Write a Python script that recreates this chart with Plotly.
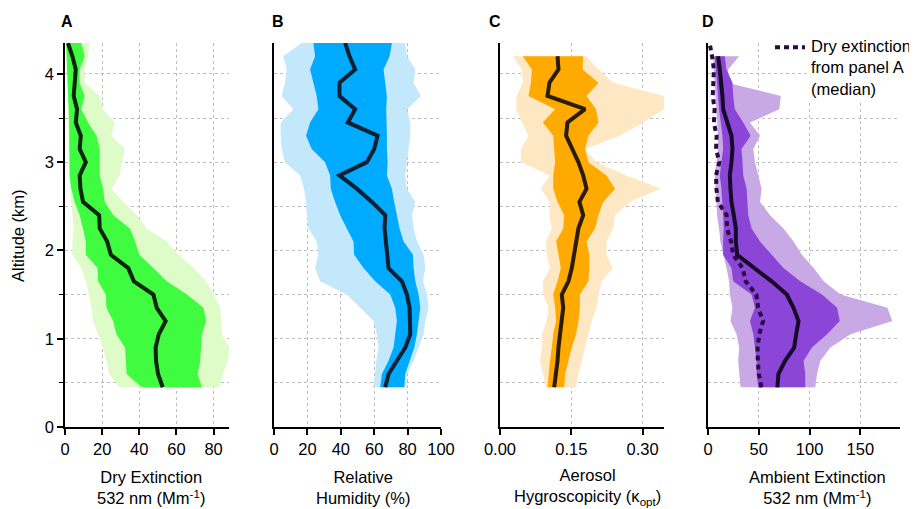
import plotly.graph_objects as go

# ---------------- data ----------------
altitude = [0.45, 0.60, 0.75, 0.90, 1.05, 1.20, 1.35, 1.50, 1.65, 1.80, 1.95, 2.10, 2.25,
            2.40, 2.55, 2.70, 2.85, 3.00, 3.15, 3.30, 3.45, 3.60, 3.75, 3.90, 4.05, 4.20, 4.35]
altitude_cd = altitude[:26]

# Panel A: dry extinction (Mm-1)
dry_med = [52.6, 50.1, 49.0, 48.8, 50.5, 54.2, 49.4, 47.6, 37.1, 34.1, 24.7, 22.7, 18.7, 18.4,
           9.7, 8.3, 7.9, 11.2, 7.9, 8.5, 5.8, 6.5, 4.7, 5.2, 5.8, 4.0, 1.6]
dry_p25 = [41.3, 33.2, 32.8, 32.3, 27.7, 25.9, 22.3, 22.0, 17.8, 17.5, 11.2, 11.2, 9.7, 7.9,
           5.2, 3.4, 2.5, 2.5, 2.5, 2.5, 2.2, 2.0, 1.6, 1.3, 1.1, 0.9, 0.7]
dry_p75 = [73.7, 71.4, 72.8, 73.2, 73.7, 76.0, 74.6, 65.6, 54.8, 47.6, 40.0, 37.7, 35.0, 26.0,
           21.4, 20.5, 18.7, 18.7, 18.7, 17.0, 12.4, 8.8, 10.6, 7.9, 7.9, 10.6, 8.8]
dry_p10 = [29.2, 23.8, 22.3, 20.5, 17.8, 15.1, 14.2, 13.0, 11.2, 8.8, 4.0, 4.0, 4.7, 4.0,
           3.4, 2.5, 2.0, 2.0, 2.0, 2.0, 1.8, 1.6, 1.4, 1.1, 0.9, 0.7, 0.7]
dry_p90 = [83.2, 85.0, 87.7, 88.6, 84.5, 84.1, 83.6, 80.0, 76.0, 69.2, 61.1, 54.8, 44.0, 38.6,
           31.4, 25.0, 29.5, 30.5, 32.3, 25.0, 26.8, 20.5, 18.7, 10.6, 10.6, 12.4, 13.3]

# Panel B: relative humidity (%)
rh_med = [66.6, 68.6, 73.6, 78.6, 81.6, 81.6, 81.2, 79.6, 76.6, 68.6, 67.6, 67.0, 66.2, 66.6,
          58.6, 49.6, 39.2, 55.6, 60.0, 62.0, 44.2, 48.6, 39.2, 39.2, 48.6, 45.2, 42.6]
rh_p25 = [63.6, 64.6, 68.6, 71.6, 72.6, 73.6, 72.6, 69.6, 60.6, 53.6, 48.0, 47.6, 43.6, 39.6,
          36.6, 34.0, 33.6, 30.6, 22.6, 19.2, 21.6, 26.6, 25.6, 23.6, 21.6, 24.6, 23.6]
rh_p75 = [78.0, 78.6, 81.2, 84.0, 85.6, 86.6, 87.6, 86.6, 84.6, 83.6, 83.2, 77.6, 75.2, 73.6,
          72.0, 70.6, 67.6, 68.0, 67.6, 67.6, 67.6, 67.2, 67.6, 66.6, 65.6, 69.2, 70.6]
rh_p10 = [59.2, 60.6, 61.2, 62.6, 61.6, 59.6, 51.6, 43.6, 27.6, 24.6, 26.6, 25.6, 20.6, 19.6,
          19.2, 18.0, 15.6, 6.6, 4.6, 4.0, 4.0, 11.6, 4.6, 6.6, 7.6, 5.6, 16.6]
rh_p90 = [79.0, 79.6, 83.6, 86.6, 89.6, 90.6, 92.6, 91.6, 89.2, 90.6, 89.6, 85.6, 83.6, 82.6,
          84.6, 79.6, 78.6, 79.6, 80.6, 81.6, 81.6, 79.6, 88.0, 83.6, 84.6, 79.6, 78.6]

# Panel C: aerosol hygroscopicity (kappa_opt)
kappa_med = [0.114, 0.118, 0.121, 0.123, 0.126, 0.128, 0.133, 0.130, 0.144, 0.151, 0.156, 0.160, 0.165,
             0.175, 0.167, 0.182, 0.175, 0.165, 0.151, 0.139, 0.142, 0.179, 0.100, 0.104, 0.123, 0.121]
kappa_p25 = [0.100, 0.102, 0.105, 0.109, 0.112, 0.118, 0.116, 0.112, 0.121, 0.128, 0.123, 0.118, 0.133,
             0.135, 0.121, 0.112, 0.112, 0.116, 0.114, 0.112, 0.090, 0.116, 0.060, 0.065, 0.067, 0.048]
kappa_p75 = [0.135, 0.137, 0.144, 0.151, 0.160, 0.165, 0.168, 0.168, 0.186, 0.188, 0.188, 0.182, 0.200,
             0.207, 0.217, 0.242, 0.224, 0.186, 0.179, 0.186, 0.207, 0.202, 0.182, 0.207, 0.174, 0.175]
kappa_p10 = [0.097, 0.090, 0.084, 0.088, 0.088, 0.098, 0.102, 0.091, 0.090, 0.105, 0.098, 0.097, 0.109,
             0.104, 0.105, 0.086, 0.105, 0.044, 0.044, 0.060, 0.046, 0.034, 0.035, 0.048, 0.046, 0.027]
kappa_p90 = [0.160, 0.165, 0.172, 0.179, 0.186, 0.193, 0.203, 0.207, 0.214, 0.237, 0.224, 0.224, 0.238,
             0.242, 0.273, 0.338, 0.266, 0.203, 0.179, 0.252, 0.301, 0.345, 0.345, 0.238, 0.207, 0.182]

# Panel D: ambient extinction (Mm-1)
amb_med = [68.3, 69.3, 75.9, 84.8, 86.8, 89.1, 84.2, 77.6, 62.7, 46.2, 28.7, 27.4, 27.4,
           25.4, 23.1, 22.1, 21.5, 23.1, 24.1, 23.1, 18.8, 14.9, 14.2, 13.2, 11.6, 9.9]
amb_p25 = [49.5, 47.9, 47.9, 46.2, 44.6, 41.3, 46.2, 42.9, 24.8, 23.1, 14.9, 14.9, 15.5,
           14.9, 14.2, 13.2, 11.6, 13.2, 14.9, 14.2, 12.2, 10.9, 9.9, 8.9, 7.6, 6.6]
amb_p75 = [95.7, 95.7, 94.1, 102.3, 117.2, 129.7, 127.1, 112.2, 90.8, 74.3, 62.7, 51.2, 42.9,
           39.6, 38.6, 38.0, 34.7, 34.0, 33.0, 41.9, 34.7, 26.4, 24.8, 24.1, 18.2, 16.5]
amb_p10 = [32.0, 30.7, 29.7, 30.7, 28.1, 22.1, 24.1, 21.5, 20.8, 18.2, 14.9, 12.2, 10.9,
           8.9, 8.3, 7.6, 6.6, 8.3, 9.9, 9.9, 8.9, 8.3, 7.6, 6.6, 5.6, 5.0]
amb_p90 = [105.6, 107.3, 110.6, 120.5, 140.3, 181.5, 176.6, 130.4, 113.9, 104.0, 92.4, 84.2, 74.3,
           61.1, 51.2, 52.8, 49.5, 46.2, 44.6, 51.2, 41.3, 70.3, 71.6, 18.8, 19.8, 30.7]

ticks_a = [0, 20, 40, 60, 80]
ticks_b = [0, 20, 40, 60, 80, 100]
ticks_c = [0.0, 0.15, 0.30]
ticks_c_text = ["0.00", "0.15", "0.30"]
ticks_d = [0, 50, 100, 150]
ticks_alt = [0, 1, 2, 3, 4]
legend_text = "Dry extinction<br>from panel A<br>(median)"

# ---------------- figure ----------------
W, H = 917, 509
OFF = 8  # page body margin
FONT = "Liberation Sans, Arial, sans-serif"
FS = 16.5


def px(x):
    return (x - OFF) / W


def py(y):
    return 1 - (y - OFF) / H


fig = go.Figure()


def band(lo, hi, alt, color, n):
    xs = "x" if n == 1 else f"x{n}"
    ys = "y" if n == 1 else f"y{n}"
    return go.Scatter(x=list(lo) + list(hi)[::-1], y=list(alt) + list(alt)[::-1],
                      fill="toself", fillcolor=color, mode="lines", line=dict(width=0),
                      hoverinfo="skip", showlegend=False, xaxis=xs, yaxis=ys)


def med(x, alt, color, n):
    xs = "x" if n == 1 else f"x{n}"
    ys = "y" if n == 1 else f"y{n}"
    return go.Scatter(x=x, y=alt, mode="lines", line=dict(color=color, width=4),
                      showlegend=False, xaxis=xs, yaxis=ys)


panels = [
    (dry_p10, dry_p90, dry_p25, dry_p75, dry_med, altitude, "#DEFCC8", "#40FC40", "#0E240E"),
    (rh_p10, rh_p90, rh_p25, rh_p75, rh_med, altitude, "#C3E8FB", "#00AAFF", "#0B2030"),
    (kappa_p10, kappa_p90, kappa_p25, kappa_p75, kappa_med, altitude_cd, "#FEE8C3", "#FFAA00", "#2A1C02"),
    (amb_p10, amb_p90, amb_p25, amb_p75, amb_med, altitude_cd, "#C8A9E6", "#8B46D8", "#170A28"),
]
for i, (l10, l90, l25, l75, m, alt, cl, cd, cm) in enumerate(panels, start=1):
    fig.add_trace(band(l10, l90, alt, cl, i))
    fig.add_trace(band(l25, l75, alt, cd, i))
    fig.add_trace(med(m, alt, cm, i))

fig.add_trace(go.Scatter(x=dry_med, y=altitude, mode="lines",
                         line=dict(color="#2A0A45", width=4, dash="5px,4px"),
                         name=" ", xaxis="x4", yaxis="y4", showlegend=True))

xdom = [(65, 229), (274, 441), (500, 664), (708, 900)]
ydom = [py(427), py(43)]
xranges = [[0, 88.3], [0, 100], [0, 0.345], [0, 189]]
xticks = [(ticks_a, None), (ticks_b, None), (ticks_c, ticks_c_text), (ticks_d, None)]

GRID = "#BDBDBD"
tickfont = dict(family=FONT, size=FS, color="black")
layout = dict(
    width=W, height=H, margin=dict(l=0, r=0, t=0, b=0, autoexpand=False),
    paper_bgcolor="white", plot_bgcolor="white",
    font=dict(family=FONT, size=FS, color="black"),
)
for i in range(1, 5):
    sx = "xaxis" if i == 1 else f"xaxis{i}"
    sy = "yaxis" if i == 1 else f"yaxis{i}"
    tv, tt = xticks[i - 1]
    xa = dict(domain=[px(xdom[i - 1][0]), px(xdom[i - 1][1])], range=xranges[i - 1],
              anchor="y" if i == 1 else f"y{i}",
              showline=True, linecolor="black", linewidth=1.5,
              ticks="outside", ticklen=6, tickwidth=1.5, tickcolor="black",
              tickvals=tv, tickfont=tickfont,
              showgrid=True, gridcolor=GRID, griddash="dot", gridwidth=1,
              zeroline=False, fixedrange=True)
    if tt is not None:
        xa["ticktext"] = tt
    layout[sx] = xa
    ya = dict(domain=ydom, range=[0, 4.35], anchor="x" if i == 1 else f"x{i}",
              showline=True, linecolor="black", linewidth=1.5,
              showgrid=True, gridcolor=GRID, griddash="dot", gridwidth=1,
              zeroline=False, fixedrange=True)
    if i == 1:
        ya.update(tickvals=ticks_alt, ticks="outside", ticklen=6, tickwidth=1.5,
                  tickcolor="black", tickfont=tickfont,
                  minor=dict(dtick=0.5, tick0=0, ticks="outside", ticklen=4, tickwidth=1.2,
                             tickcolor="black", showgrid=True, gridcolor=GRID,
                             griddash="dot", gridwidth=1))
    else:
        ya.update(dtick=0.5, tick0=0, ticks="", showticklabels=False)
    layout[sy] = ya

layout["legend"] = dict(x=px(770), y=py(30), xanchor="left", yanchor="top",
                        bgcolor="white", borderwidth=0,
                        font=dict(family=FONT, size=FS, color="black"),
                        itemwidth=30, tracegroupgap=0)

ann = []
ann.append(dict(text=legend_text, x=px(806), y=py(32), xref="paper", yref="paper",
                xanchor="left", yanchor="top", align="left", showarrow=False,
                bgcolor="white", borderpad=4,
                font=dict(family=FONT, size=FS, color="black")))
for letter, xc in zip(["A", "B", "C", "D"], [66.5, 278, 494.5, 707.5]):
    ann.append(dict(text=f"<b>{letter}</b>", x=px(xc), y=py(22), xref="paper", yref="paper",
                    xanchor="center", yanchor="middle",
                    showarrow=False, font=dict(family=FONT, size=16, color="black")))
titles = [
    ("Dry Extinction<br>532 nm (Mm<sup>-1</sup>)", 151),
    ("Relative<br>Humidity (%)", 363),
    ("Aerosol<br>Hygroscopicity (κ<sub>opt</sub>)", 587),
    ("Ambient Extinction<br>532 nm (Mm<sup>-1</sup>)", 817),
]
for txt, xc in titles:
    ann.append(dict(text=txt, x=px(xc), y=py(487), xref="paper", yref="paper",
                    xanchor="center", yanchor="middle",
                    showarrow=False, align="center",
                    font=dict(family=FONT, size=FS, color="black")))
ann.append(dict(text="Altitude (km)", x=px(18), y=py(236), xref="paper", yref="paper",
                xanchor="center", yanchor="middle",
                showarrow=False, textangle=-90, font=dict(family=FONT, size=FS, color="black")))
layout["annotations"] = ann

fig.update_layout(**layout)
fig.write_html("out.html")
